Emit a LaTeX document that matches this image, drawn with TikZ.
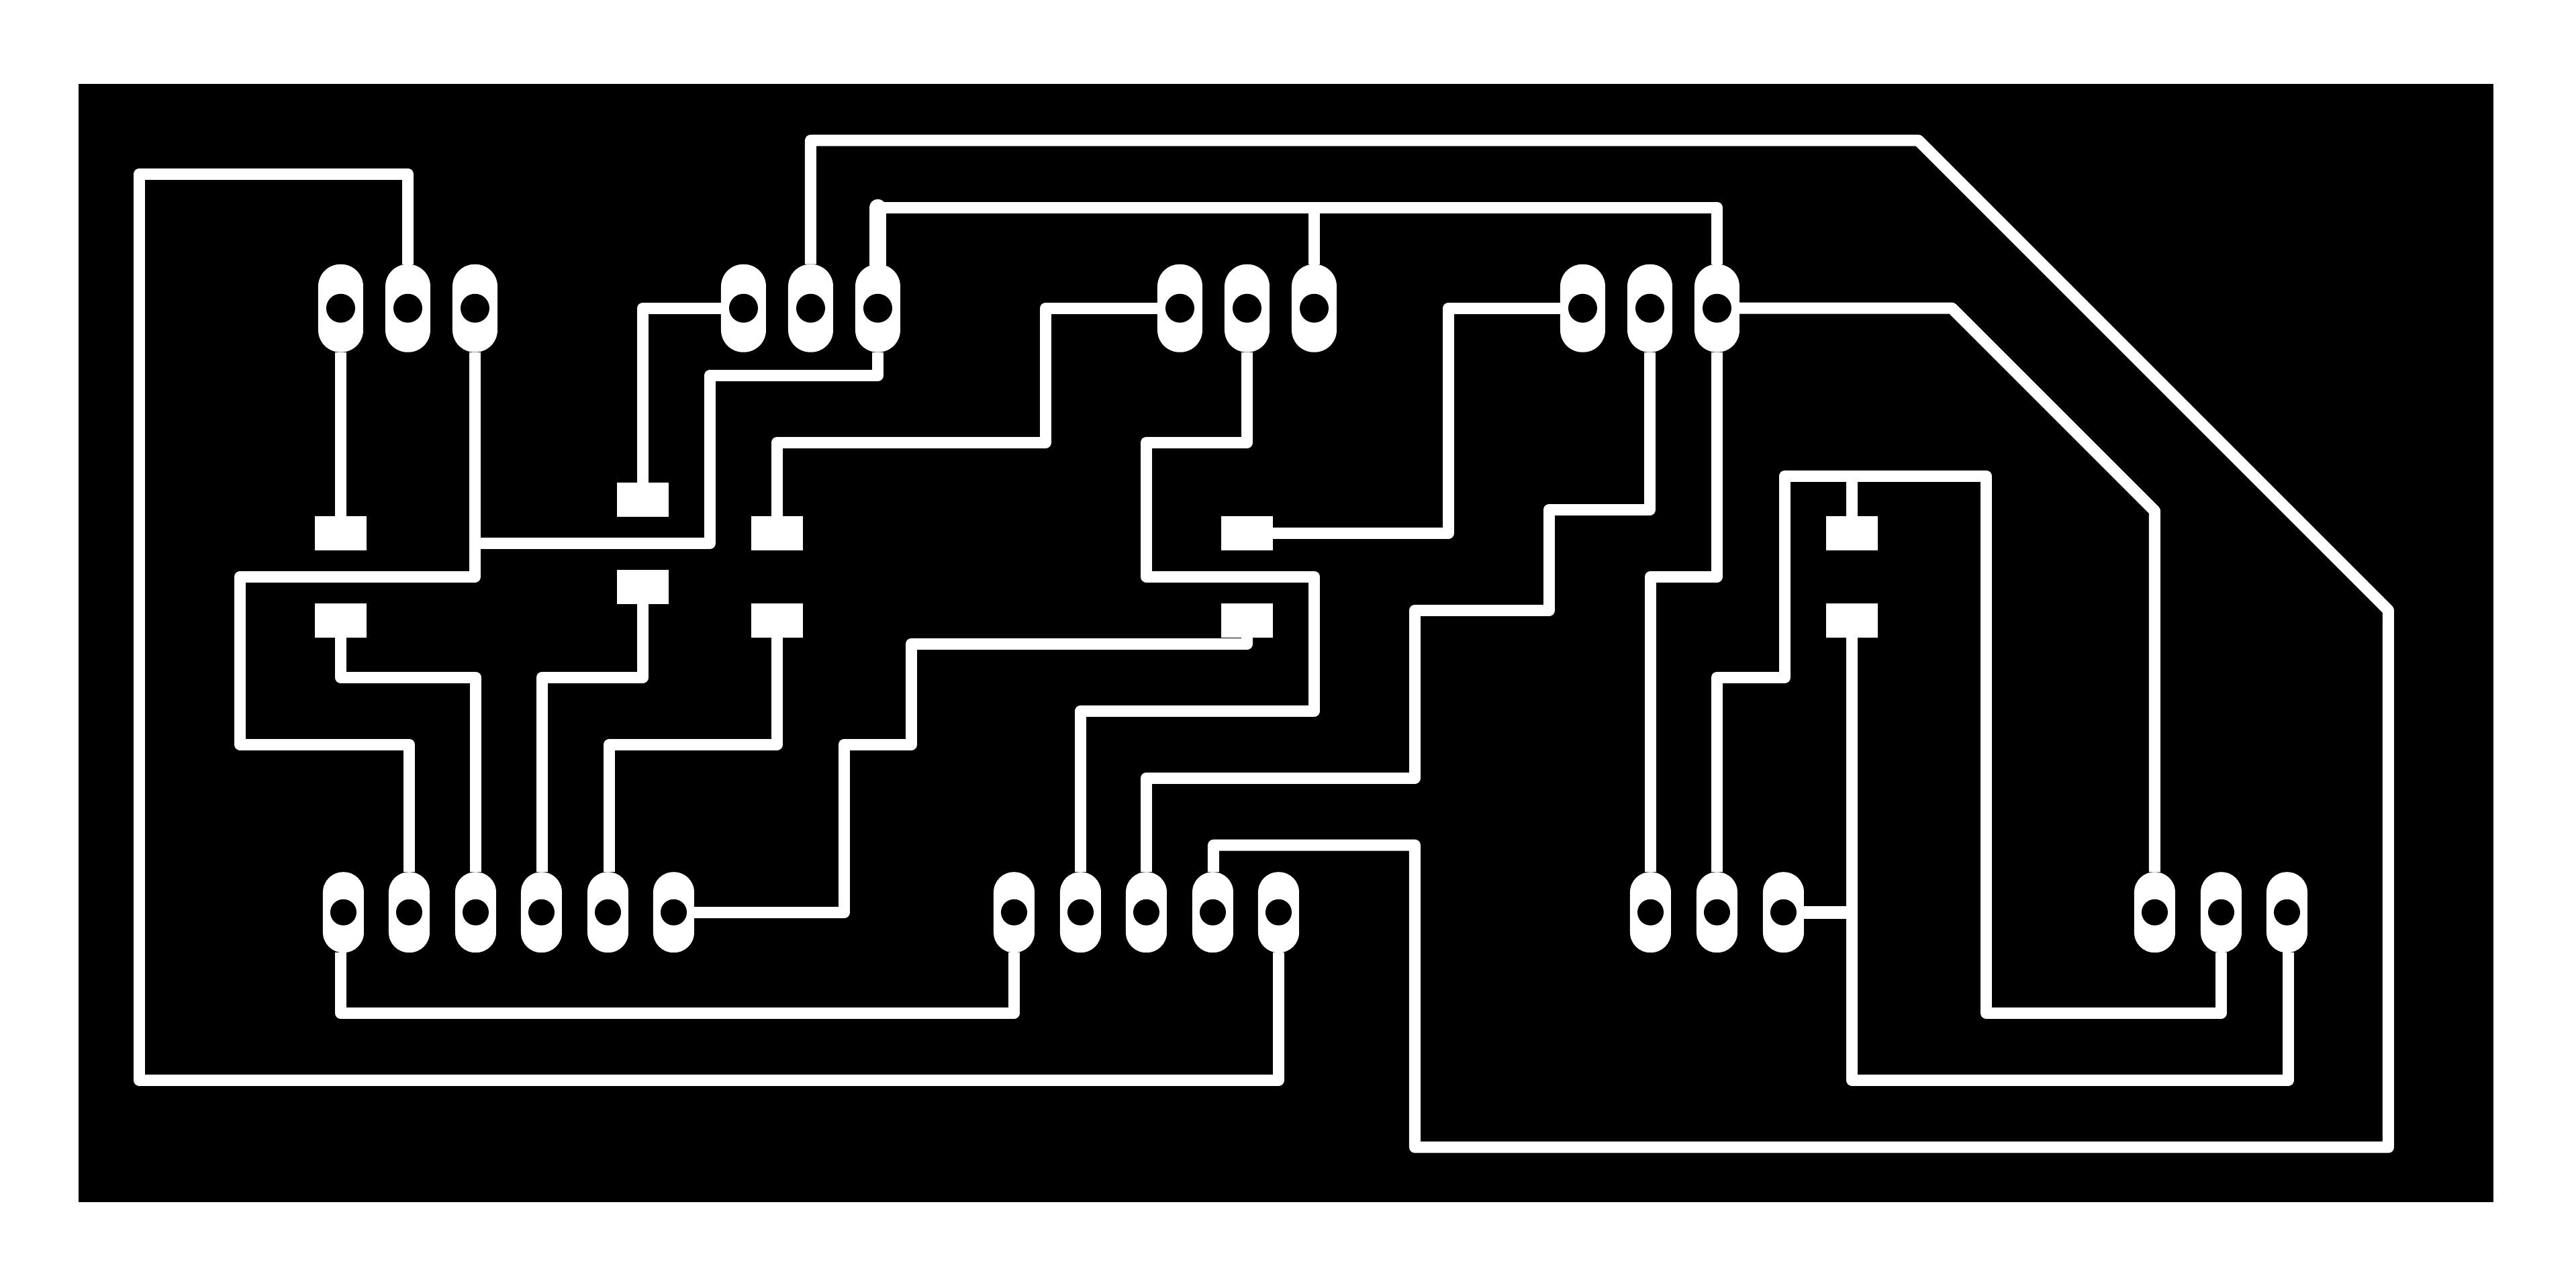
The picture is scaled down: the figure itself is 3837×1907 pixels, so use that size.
\documentclass[tikz,border=0pt]{standalone}
\def\px{0.0254mm}
\tikzset{
  trace/.style={draw=white, line width=17*\px, line join=round},
  thicktrace/.style={trace, line width=25*\px, line cap=round},
  wide/.style={trace, line width=19*\px},
  padbase/.style={fill=white, inner sep=0pt, outer sep=0pt},
  toppad/.style={padbase, minimum width=67*\px, minimum height=131*\px, rounded corners=33*\px,
    path picture={\fill[black] (path picture bounding box.center) circle (21.5*\px);}},
  botpad/.style={padbase, minimum width=61*\px, minimum height=120*\px, rounded corners=30*\px,
    path picture={\fill[black] (path picture bounding box.center) circle (19.5*\px);}},
  smd/.style={padbase, minimum width=77*\px, minimum height=51*\px},
}
\begin{document}
\begin{tikzpicture}[x=\px, y=-\px]
\useasboundingbox (0,0) rectangle (3837,1907);
\fill[white] (0,0) rectangle (3837,1907);
\fill[black] (117,125) rectangle (3714,1791);
\begin{scope}[shift={(0.5,0.3)}]
\node[toppad] (tA1) at (507,459) {};
\node[toppad] (tA2) at (607,459) {};
\node[toppad] (tA3) at (707,459) {};
\node[toppad] (tB1) at (1107,459) {};
\node[toppad] (tB2) at (1207,459) {};
\node[toppad] (tB3) at (1307,459) {};
\node[toppad] (tC1) at (1757,459) {};
\node[toppad] (tC2) at (1857,459) {};
\node[toppad] (tC3) at (1957,459) {};
\node[toppad] (tD1) at (2357,459) {};
\node[toppad] (tD2) at (2457,459) {};
\node[toppad] (tD3) at (2557,459) {};
\node[botpad] (bA1) at (511,1359) {};
\node[botpad] (bA2) at (609,1359) {};
\node[botpad] (bA3) at (708,1359) {};
\node[botpad] (bA4) at (806,1359) {};
\node[botpad] (bA5) at (905,1359) {};
\node[botpad] (bA6) at (1003,1359) {};
\node[botpad] (bB1) at (1510,1359) {};
\node[botpad] (bB2) at (1609,1359) {};
\node[botpad] (bB3) at (1707,1359) {};
\node[botpad] (bB4) at (1806,1359) {};
\node[botpad] (bB5) at (1904,1359) {};
\node[botpad] (bC1) at (2458,1359) {};
\node[botpad] (bC2) at (2557,1359) {};
\node[botpad] (bC3) at (2656,1359) {};
\node[botpad] (bD1) at (3209,1359) {};
\node[botpad] (bD2) at (3308,1359) {};
\node[botpad] (bD3) at (3406,1359) {};
\node[smd] (sA1) at (507,794) {};
\node[smd] (sA2) at (507,924) {};
\node[smd] (sB1) at (957,744) {};
\node[smd] (sB2) at (957,874) {};
\node[smd] (sC1) at (1157,794) {};
\node[smd] (sC2) at (1157,924) {};
\node[smd] (sD1) at (1857,794) {};
\node[smd] (sD2) at (1857,924) {};
\node[smd] (sE1) at (2758,794) {};
\node[smd] (sE2) at (2758,924) {};
\coordinate (jA) at (707,809);
\coordinate (jB) at (1307,309);
\coordinate (jC) at (1957,309);
\coordinate (jD) at (2758,709);
\coordinate (jE) at (2758,1359);
\draw[trace] (tA2) -- (607,259) -- (207,259) -- (207,1609) -- (1904,1609) -- (bB5);
\draw[trace] (tA1) -- (sA1);
\draw[trace] (tA3) -- (707,859) -- (357,859) -- (357,1109) -- (609,1109) -- (bA2);
\draw[trace] (jA) -- (1057,809) -- (1057,559) -- (1307,559) -- (tB3);
\draw[trace] (sA2) -- (507,1009) -- (708,1009) -- (bA3);
\draw[trace] (sB2) -- (957,1009) -- (807,1009) -- ([shift={(1,0)}]bA4.north);
\draw[trace] (sC2) -- (1157,1109) -- (907,1109) -- ([shift={(2,0)}]bA5.north);
\draw[trace] (bA6) -- (1257,1359) -- (1257,1109) -- (1357,1109) -- (1357,959) -- (1857,959) -- (sD2);
\draw[trace] (tB2) -- (1207,209) -- (2857,209) -- (3557,909) -- (3557,1709) -- (2107,1709) -- (2107,1259) -- (1807,1259) -- ([shift={(1,0)}]bB4.north);
\draw[thicktrace] (jB) -- (tB3);
\draw[trace] (jB) -- (2557,309) -- (tD3);
\draw[trace] (jC) -- (tC3);
\draw[trace] (tB1) -- (957,459) -- (sB1);
\draw[trace] (tC1) -- (1557,459) -- (1557,659) -- (1157,659) -- (sC1);
\draw[trace] (tC2) -- (1857,659) -- (1707,659) -- (1707,859) -- (1957,859) -- (1957,1059) -- (1609,1059) -- (bB2);
\draw[trace] (sD1) -- (2157,794) -- (2157,459) -- (tD1);
\draw[trace] (tD2) -- (2457,759) -- (2307,759) -- (2307,909) -- (2107,909) -- (2107,1159) -- (1707,1159) -- (bB3);
\draw[trace] (tD3) -- (2557,859) -- (2458,859) -- (bC1);
\draw[trace] (tD3) -- (2907,459) -- (3209,761) -- (bD1);
\draw[trace] (sE1) -- (jD) -- (2658,709) -- (2658,1009) -- (2557,1009) -- (bC2);
\draw[trace] (jD) -- (2958,709) -- (2958,1509) -- (3308,1509) -- (bD2);
\draw[trace] (sE2) -- (2758,1609) -- (3408,1609) -- ([shift={(2,0)}]bD3.south);
\draw[wide] (bC3) -- (jE);
\draw[trace] ([shift={(-4,0)}]bA1.south) -- (507,1509) -- (1510,1509) -- (bB1);
\end{scope}
\end{tikzpicture}
\end{document}
